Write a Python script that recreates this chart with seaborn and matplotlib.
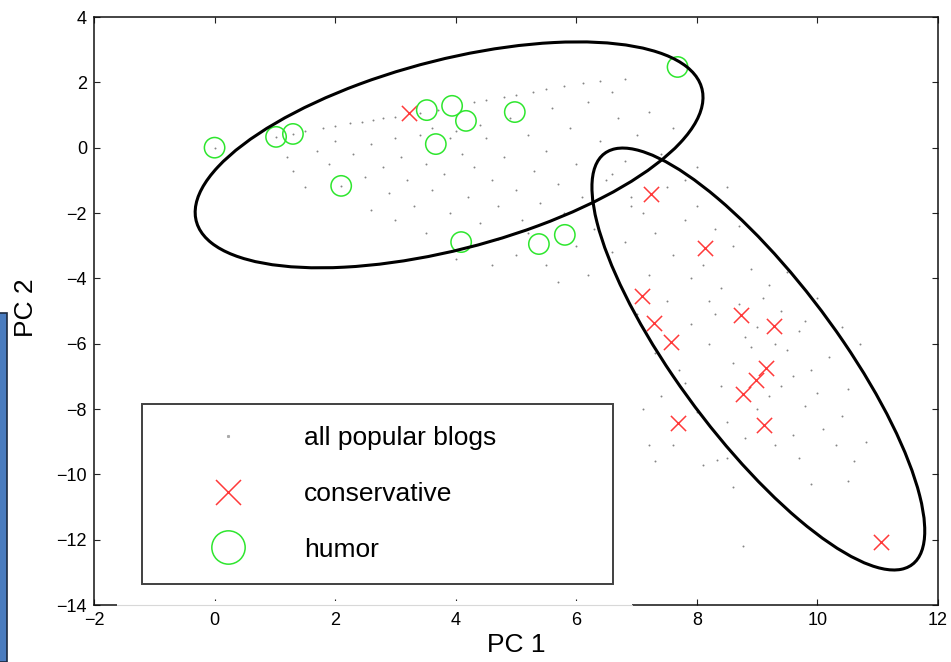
import numpy as np
import matplotlib
matplotlib.use("Agg")
import matplotlib.pyplot as plt
import seaborn as sns
from matplotlib.patches import Ellipse, Rectangle
from matplotlib.lines import Line2D

# ---- data -------------------------------------------------------------
# projection of all popular blogs onto the first two principal components
blogs_pc1 = [1.5, 1.8, 2.0, 2.25, 2.45, 2.63, 2.8, 3.0, 3.4, 3.7, 4.3, 4.5, 4.8, 5.0,
             5.28, 5.5, 5.8, 6.11, 6.4, 6.8,
             1.2, 1.3, 1.5, 1.7, 1.9, 2.0, 2.3, 2.5, 2.6, 2.8, 2.9, 3.0, 3.1, 3.2, 3.3,
             3.4, 3.5, 3.6, 3.8, 3.9, 4.0, 4.1, 4.2, 4.3, 4.4, 4.5, 4.6, 4.7, 4.8, 4.9,
             5.0, 5.1, 5.2, 5.3, 5.4, 5.5, 5.6, 5.7, 5.8, 5.9, 6.0, 6.1, 6.2, 6.3, 6.4,
             6.5, 6.6, 6.7, 6.8, 6.9, 3.6, 3.9, 4.4, 4.0, 4.6, 5.0, 5.5, 6.0, 6.2, 5.7,
             4.7, 5.2, 3.5, 3.0, 2.6, 7.0, 7.2, 6.6, 7.4, 7.0,
             6.9, 7.1, 7.3, 7.5, 7.6, 7.8, 7.9, 8.0, 8.1, 8.3, 8.4, 8.6, 8.7, 8.9, 9.0,
             9.2, 9.4, 9.5, 9.7, 9.9, 10.0, 10.2, 10.4, 10.5, 10.1, 9.8, 9.6, 9.4, 9.3,
             9.0, 8.8, 8.6, 8.4, 8.2, 8.0, 7.9, 7.7, 7.5, 7.3, 7.2, 7.0, 6.8, 7.4, 7.8,
             8.3, 8.5, 8.9, 9.1, 9.5, 9.3, 9.6, 10.3, 10.6, 8.1, 7.6, 8.7, 9.8, 10.0,
             10.7, 8.2, 8.8, 9.7, 10.8, 10.4, 8.6, 7.1, 7.3, 9.9, 8.5, 9.2,
             7.6, 8.0, 7.8, 8.5, 6.6, 10.5, 8.76, 8.33, 7.2, 0.0, 1.02, 1.3, 2.1]
blogs_pc2 = [0.5, 0.6, 0.65, 0.75, 0.8, 0.85, 0.9, 0.95, 1.05, 1.15, 1.4, 1.45, 1.55, 1.6,
             1.71, 1.8, 1.9, 1.98, 2.05, 2.1,
             -0.3, -0.7, -1.2, -0.1, -0.5, 0.2, -0.2, -0.9, 0.1, -0.6, -1.4, 0.3, -0.3,
             -1.0, -1.8, 0.4, -0.5, -1.3, -0.8, -2.0, 0.5, -0.2, -1.5, -0.6, -2.3, 0.3,
             -1.0, -1.8, -0.3, 0.9, -1.3, -2.2, 0.4, -0.7, -1.7, -0.1, 1.2, -1.1, -2.0,
             0.6, -0.5, -1.5, 1.4, -2.5, 0.2, -1.0, -3.2, 0.9, -0.4, -1.8, 0.6, 0.3, 0.7,
             -3.4, -3.6, -3.3, -3.6, -3.0, -3.9, -4.1, -2.8, -2.6, -2.6, -2.2, -1.9, 0.4,
             1.1, 1.7, -0.2, -0.9,
             -1.5, -2.0, -2.6, -1.2, -3.3, -2.2, -4.0, -1.8, -3.6, -2.5, -4.3, -3.0, -4.8,
             -3.7, -5.5, -4.2, -5.0, -6.2, -5.6, -6.8, -7.5, -6.4, -8.2, -7.4, -8.6, -7.9,
             -8.8, -7.3, -9.1, -8.0, -8.9, -6.6, -7.3, -6.0, -8.1, -5.4, -6.8, -4.7, -6.3,
             -3.9, -5.1, -2.9, -7.6, -7.2, -5.1, -9.5, -6.1, -4.6, -3.8, -6.0, -7.0, -9.1,
             -9.6, -9.7, -9.1, -2.4, -5.3, -4.6, -6.0, -4.7, -5.8, -9.5, -9.0, -5.5, -10.4,
             -8.0, -9.6, -10.3, -8.4, -7.6,
             0.6, -0.6, -1.0, -1.2, -0.8, -10.2, -12.2, -9.56, -9.1, 0.0, 0.33, 0.42, -1.17]

# blogs tagged "conservative"
cons_pc1 = [3.22, 7.24, 8.13, 7.09, 7.29, 7.57, 8.73, 9.28, 9.14, 8.98, 8.76, 7.68, 9.11, 11.05]
cons_pc2 = [1.06, -1.42, -3.07, -4.54, -5.37, -5.95, -5.12, -5.46, -6.74, -7.11, -7.54,
            -8.43, -8.49, -12.07]

# blogs tagged "humor"
humor_pc1 = [0.0, 1.02, 1.30, 2.10, 3.52, 3.94, 4.17, 3.67, 4.98, 4.09, 5.38, 5.81, 7.68]
humor_pc2 = [0.0, 0.33, 0.42, -1.17, 1.15, 1.28, 0.82, 0.11, 1.09, -2.89, -2.95, -2.67, 2.47]

# group ellipses: centre and covariance in (PC 1, PC 2)
humor_center = [3.89, -0.22]
humor_cov = [[17.74, 7.41], [7.41, 11.96]]
cons_center = [9.02, -6.47]
cons_cov = [[7.62, -14.52], [-14.52, 41.71]]

legend_labels = ["all popular blogs", "conservative", "humor"]
x_ticks = [-2, 0, 2, 4, 6, 8, 10, 12]
y_ticks = [-14, -12, -10, -8, -6, -4, -2, 0, 2, 4]

# ---- style ------------------------------------------------------------
sns.set_style("ticks")
plt.rcParams["font.family"] = ["Liberation Sans", "DejaVu Sans"]
plt.rcParams.update({
    "xtick.direction": "in", "ytick.direction": "in",
    "xtick.top": True, "ytick.right": True,
    "xtick.major.size": 4.5, "ytick.major.size": 4.5,
    "xtick.major.width": 0.8, "ytick.major.width": 0.8,
    "axes.linewidth": 1.1, "axes.edgecolor": "#111111",
    "xtick.color": "#222222", "ytick.color": "#222222",
    "xtick.labelcolor": "black", "ytick.labelcolor": "black",
    "text.color": "black", "axes.labelcolor": "black",
})

RED = "#ff3a3a"
GREEN = "#2ee62e"
DOT = "#707070"

fig = plt.figure(figsize=(9.51, 6.62), dpi=100)
ax = fig.add_axes([94 / 951, 1 - 605 / 662, 844 / 951, 588 / 662])

sns.scatterplot(x=blogs_pc1, y=blogs_pc2, ax=ax, color=DOT, s=2, linewidth=0,
                alpha=0.85, legend=False, zorder=1)
sns.scatterplot(x=cons_pc1, y=cons_pc2, ax=ax, marker="x", color=RED, s=120,
                linewidth=1.1, legend=False, zorder=3)
sns.scatterplot(x=humor_pc1, y=humor_pc2, ax=ax, marker="o", color=GREEN,
                facecolor="none", edgecolor=GREEN, s=215, linewidth=1.1,
                legend=False, zorder=3)


def cov_ellipse(center, cov):
    vals, vecs = np.linalg.eigh(np.asarray(cov))
    angle = np.degrees(np.arctan2(vecs[1, 1], vecs[0, 1]))
    return Ellipse(center, 2 * np.sqrt(vals[1]), 2 * np.sqrt(vals[0]), angle=angle,
                   fill=False, edgecolor="black", linewidth=2.2, zorder=4)


ax.add_patch(cov_ellipse(humor_center, humor_cov))
ax.add_patch(cov_ellipse(cons_center, cons_cov))

ax.set_xlim(-2, 12)
ax.set_ylim(-14, 4)
ax.set_xticks(x_ticks)
ax.set_yticks(y_ticks)
ax.tick_params(labelsize=13, pad=5)
ax.set_xlabel("PC 1", fontsize=19, labelpad=3)
ax.set_ylabel("PC 2", fontsize=19)
ax.yaxis.set_label_coords(-0.066, 0.505)

handles = [
    Line2D([], [], ls="none", marker="s", ms=1.2, color="#aaaaaa"),
    Line2D([], [], ls="none", marker="x", ms=18, mew=1.1, color=RED),
    Line2D([], [], ls="none", marker="o", ms=24, mew=1.1, mfc="none", mec=GREEN),
]
leg = ax.legend(handles, legend_labels, loc="lower left",
                bbox_to_anchor=(48 / 844, 21 / 588, 471 / 844, 0.3),
                mode="expand", fontsize=19, frameon=True, fancybox=False,
                borderpad=0.85, labelspacing=1.2, handlelength=4.8,
                handletextpad=0.5, borderaxespad=0, labelcolor="black")
leg.get_frame().set_edgecolor("#111111")
leg.get_frame().set_linewidth(1.4)
leg.set_zorder(6)

# strip along the lower edge where the frame line is faded
fig.patches.append(Rectangle((117 / 951, 1 - 609 / 662), 515 / 951, 8 / 662,
                             transform=fig.transFigure, facecolor="white",
                             edgecolor="none", zorder=10))
fig.lines.append(Line2D([117 / 951, 632 / 951], [1 - 605 / 662, 1 - 605 / 662],
                        transform=fig.transFigure, color="#d8d8d8", lw=0.8, zorder=11))

# blue panel at the left margin
fig.patches.append(Rectangle((-2 / 951, 0), 9 / 951, 349 / 662,
                             transform=fig.transFigure, facecolor="#4a7cbf",
                             edgecolor="#1c2a40", linewidth=1.2, zorder=10))

fig.savefig("out.png", dpi=100)
